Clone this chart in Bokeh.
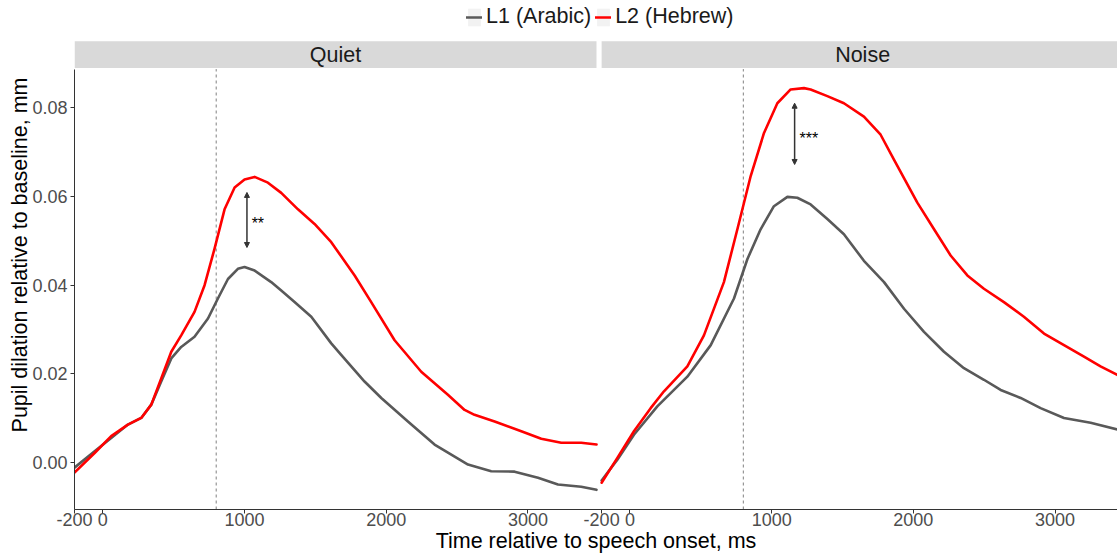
import math
from bokeh.plotting import figure
from bokeh.models import (Range1d, FixedTicker, PrintfTickFormatter, Arrow, NormalHead,
                          Legend, LegendItem, BoxAnnotation)
from bokeh.embed import file_html
from bokeh.resources import INLINE
from bokeh.core.properties import value

# ---------------- data ----------------
panel_names = ["Quiet", "Noise"]
group_names = ["L1 (Arabic)", "L2 (Hebrew)"]

quiet_l1_time = [-200, -58, 59, 177, 271, 342, 412, 483, 553, 647, 742, 812, 883, 953, 1000,
                 1071, 1188, 1259, 1353, 1471, 1612, 1682, 1847, 1965, 2153, 2341, 2577, 2741,
                 2906, 3071, 3212, 3376, 3484]
quiet_l1_dil = [-0.0011, 0.0026, 0.0056, 0.0086, 0.0101, 0.0131, 0.0183, 0.0235, 0.0261, 0.0284,
                0.0325, 0.0370, 0.0414, 0.0437, 0.0441, 0.0433, 0.0407, 0.0388, 0.0362, 0.0329,
                0.0269, 0.0243, 0.0183, 0.0146, 0.0093, 0.0041, -0.0004, -0.0019, -0.0020,
                -0.0034, -0.0049, -0.0054, -0.0061]

quiet_l2_time = [-200, -58, 59, 177, 271, 342, 412, 483, 553, 647, 718, 788, 859, 930, 1000,
                 1071, 1165, 1259, 1377, 1494, 1612, 1777, 1894, 2059, 2247, 2435, 2553, 2623,
                 2765, 2953, 3094, 3235, 3376, 3484]
quiet_l2_dil = [-0.0022, 0.0022, 0.0060, 0.0086, 0.0101, 0.0131, 0.0190, 0.0250, 0.0287, 0.0340,
                0.0400, 0.0482, 0.0571, 0.0620, 0.0638, 0.0644, 0.0631, 0.0608, 0.0571, 0.0538,
                0.0497, 0.0422, 0.0362, 0.0276, 0.0205, 0.0153, 0.0119, 0.0108, 0.0093, 0.0071,
                0.0054, 0.0045, 0.0045, 0.0041]

noise_l1_time = [-200, -89, 28, 193, 405, 570, 734, 829, 922, 1016, 1111, 1181, 1275, 1393, 1510,
                 1651, 1793, 1934, 2075, 2216, 2357, 2498, 2616, 2757, 2898, 3063, 3251, 3439]
noise_l1_dil = [-0.0040, 0.0007, 0.0063, 0.0127, 0.0194, 0.0265, 0.0370, 0.0459, 0.0526, 0.0578,
                0.0599, 0.0597, 0.0582, 0.0549, 0.0515, 0.0455, 0.0407, 0.0347, 0.0295, 0.0250,
                0.0213, 0.0187, 0.0164, 0.0146, 0.0123, 0.0101, 0.0090, 0.0075]

noise_l2_time = [-200, -89, 28, 146, 240, 405, 522, 663, 758, 852, 946, 1040, 1134, 1228, 1275,
                 1393, 1510, 1651, 1769, 1863, 2028, 2146, 2263, 2381, 2498, 2639, 2780, 2922,
                 3063, 3204, 3321, 3439]
noise_l2_dil = [-0.0045, 0.0011, 0.0071, 0.0123, 0.0161, 0.0217, 0.0287, 0.0407, 0.0526, 0.0646,
                0.0743, 0.0810, 0.0841, 0.0844, 0.0841, 0.0826, 0.0810, 0.0780, 0.0739, 0.0683,
                0.0586, 0.0526, 0.0467, 0.0422, 0.0392, 0.0362, 0.0329, 0.0291, 0.0265, 0.0239,
                0.0217, 0.0198]

x_tick_values = [-200, 0, 1000, 2000, 3000]
y_tick_values = [0.00, 0.02, 0.04, 0.06, 0.08]
onset_marker_ms = 800

sig_time = [1017, 1162]          # Quiet, Noise
sig_low = [0.0485, 0.0672]
sig_high = [0.0609, 0.0810]
sig_text = ["**", "***"]
sig_text_time = [1050, 1197]
sig_text_dil = [0.0540, 0.0730]

x_title = "Time relative to speech onset, ms"
y_title = "Pupil dilation relative to baseline, mm"

# ---------------- layout / style ----------------
FONT = "Liberation Sans"
GRAY = "#595959"
RED = "#FF0000"
W, H = 1117, 555
BORDER_L, BORDER_B = 74, 43
FRAME_W = W - BORDER_L
FRAME_H = H - BORDER_B
PANEL_TOP_PX = 69
PANEL_W = 522
PX_PER_MS = 0.1417
GAP_MS = 3720            # horizontal offset of the second panel in ms-units
X_START = -200
x_end = X_START + FRAME_W / PX_PER_MS
panel_end = X_START + PANEL_W / PX_PER_MS
Y_LO, Y_HI = -0.01053, 0.08869
ppu = (FRAME_H - PANEL_TOP_PX) / (Y_HI - Y_LO)
frame_top_val = Y_HI + PANEL_TOP_PX / ppu
strip_bottom = Y_HI + 1 / ppu
strip_top = Y_HI + 28 / ppu

p = figure(width=W, height=H, output_backend="svg", toolbar_location=None,
           x_range=Range1d(X_START, x_end), y_range=Range1d(Y_LO, frame_top_val),
           min_border_left=BORDER_L, min_border_right=0, min_border_top=0,
           min_border_bottom=BORDER_B, outline_line_color=None,
           background_fill_color="white", border_fill_color="white")
p.extra_x_ranges = {"noise": Range1d(X_START - GAP_MS, x_end - GAP_MS)}
p.xgrid.visible = False
p.ygrid.visible = False

# strips and onset markers
for i, rng in enumerate(["default", "noise"]):
    p.add_layout(BoxAnnotation(left=X_START, right=panel_end, bottom=strip_bottom, top=strip_top,
                               fill_color="#D9D9D9", fill_alpha=1, line_color=None,
                               x_range_name=rng, level="underlay"))
    p.text(x=[(X_START + panel_end) / 2], y=[(strip_bottom + strip_top) / 2], text=[panel_names[i]],
           x_range_name=rng, text_font=value(FONT), text_font_size="21.5px", text_color="#1A1A1A",
           text_align="center", text_baseline="middle")
    p.segment(x0=[onset_marker_ms], x1=[onset_marker_ms], y0=[Y_LO], y1=[Y_HI], x_range_name=rng,
              line_color="#808080", line_width=1, line_dash="3 3")

# curves
line_kw = dict(line_width=2.6, line_join="round", line_cap="round")
r_q1 = p.line(quiet_l1_time, quiet_l1_dil, line_color=GRAY, **line_kw)
r_q2 = p.line(quiet_l2_time, quiet_l2_dil, line_color=RED, **line_kw)
p.line(noise_l1_time, noise_l1_dil, line_color=GRAY, x_range_name="noise", **line_kw)
p.line(noise_l2_time, noise_l2_dil, line_color=RED, x_range_name="noise", **line_kw)

# significance arrows
for i, rng in enumerate(["default", "noise"]):
    p.add_layout(Arrow(x_start=sig_time[i], y_start=sig_low[i], x_end=sig_time[i], y_end=sig_high[i],
                       start=NormalHead(size=5, fill_color="#333333", line_color="#333333", line_width=1),
                       end=NormalHead(size=5, fill_color="#333333", line_color="#333333", line_width=1),
                       line_color="#333333", line_width=1.5, x_range_name=rng))
    p.text(x=[sig_text_time[i]], y=[sig_text_dil[i]], text=[sig_text[i]], x_range_name=rng,
           text_font=value(FONT), text_font_size="16px", text_color="#000000",
           text_align="left", text_baseline="middle")

# axes
ticks = x_tick_values + [t + GAP_MS for t in x_tick_values]
overrides = {t: str(t) for t in x_tick_values}
overrides.update({t + GAP_MS: str(t) for t in x_tick_values})
xa = p.xaxis[0]
xa.ticker = FixedTicker(ticks=ticks)
xa.major_label_overrides = overrides
xa.axis_label = x_title
ya = p.yaxis[0]
ya.ticker = FixedTicker(ticks=y_tick_values)
ya.formatter = PrintfTickFormatter(format="%.2f")
ya.bounds = (Y_LO, Y_HI)
ya.axis_label = y_title
for ax in (xa, ya):
    ax.axis_line_color = "#333333"
    ax.major_tick_line_color = "#333333"
    ax.minor_tick_line_color = None
    ax.major_tick_out = 4
    ax.major_tick_in = 0
    ax.major_label_text_font = FONT
    ax.major_label_text_font_size = "18px"
    ax.major_label_text_color = "#4D4D4D"
    ax.axis_label_text_font = FONT
    ax.axis_label_text_font_size = "21.5px"
    ax.axis_label_text_font_style = "normal"
    ax.axis_label_text_color = "#000000"
xa.major_label_standoff = -1
xa.axis_label_standoff = 0
ya.major_label_standoff = 3
ya.axis_label_standoff = -3

# legend
bg = p.rect(x=[math.nan], y=[math.nan], width=1, height=1, fill_color="#F2F2F2", line_color=None)
legend = Legend(items=[LegendItem(label=group_names[0], renderers=[bg, r_q1]),
                       LegendItem(label=group_names[1], renderers=[bg, r_q2])],
                location=(392, FRAME_H - 32), orientation="horizontal",
                glyph_width=16, glyph_height=22, label_standoff=4, spacing=4,
                padding=0, margin=0, border_line_color=None, background_fill_alpha=0,
                label_text_font=FONT, label_text_font_size="21.5px", label_text_color="#1A1A1A")
p.add_layout(legend)

open("out.html", "w").write(file_html(p, INLINE))
